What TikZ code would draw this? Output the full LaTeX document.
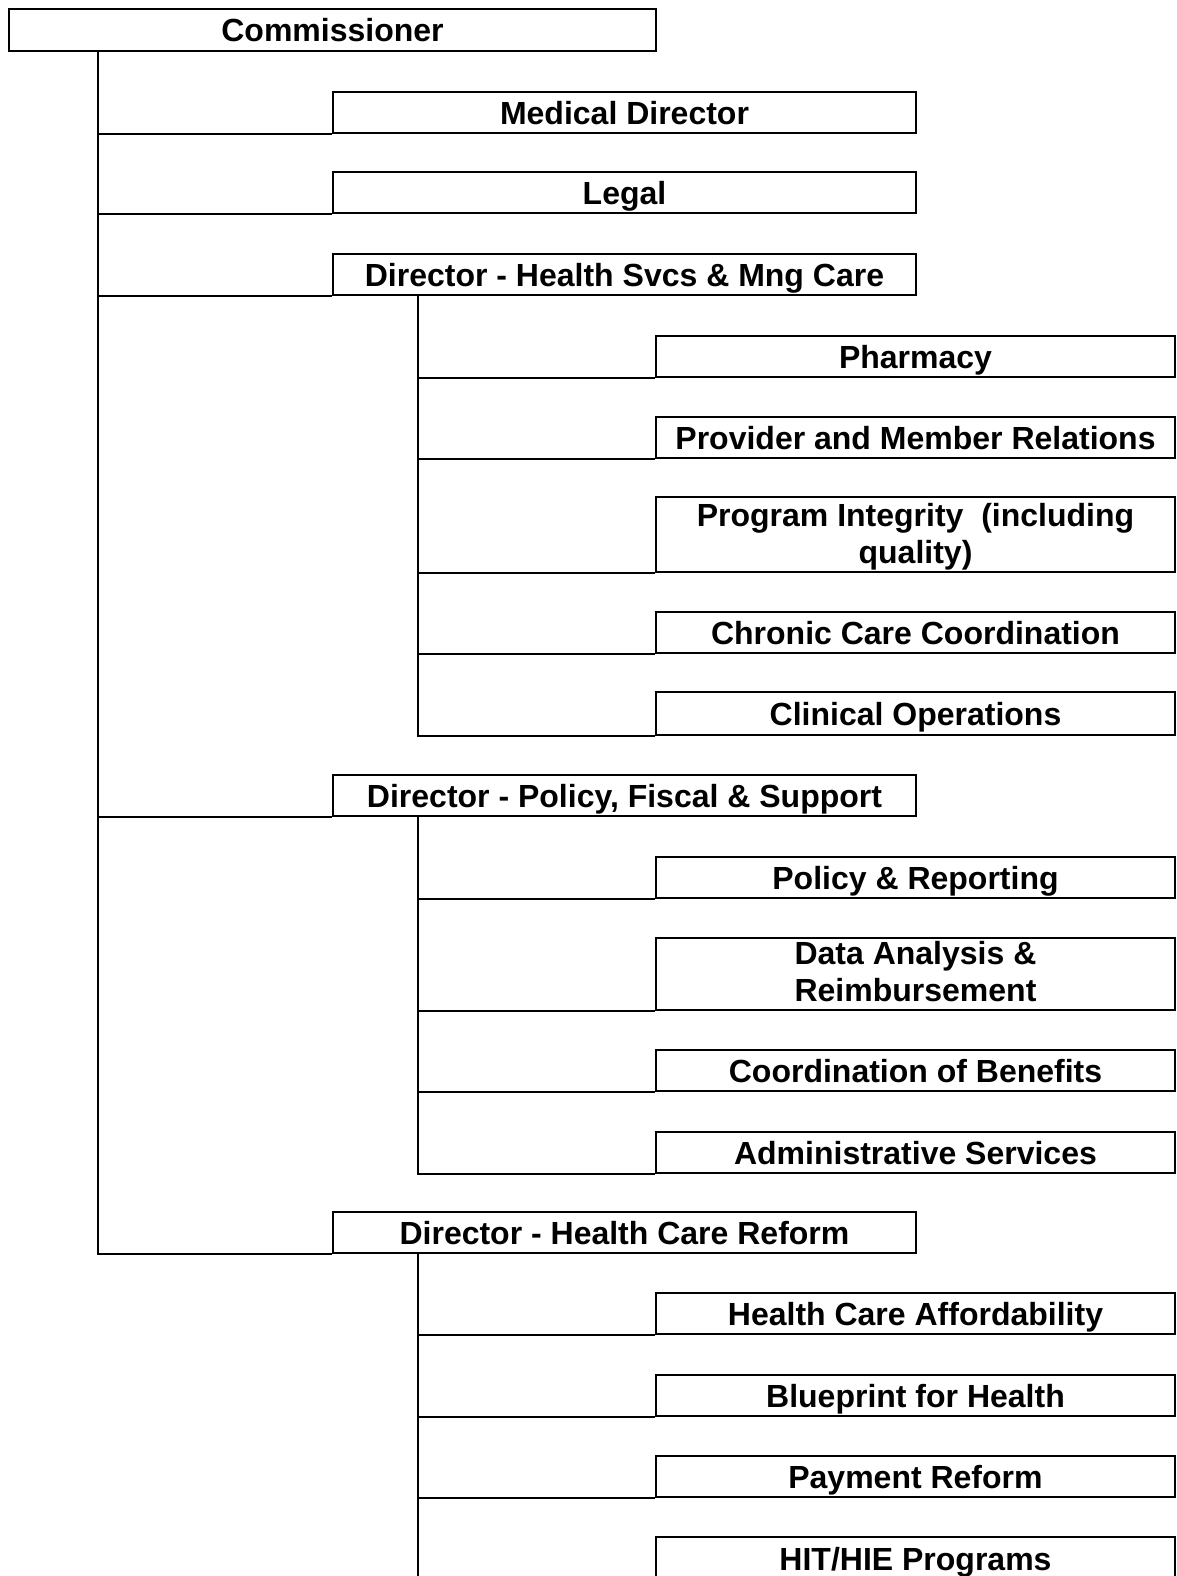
\documentclass[tikz,border=0pt]{standalone}
\usepackage{fontspec}
\setmainfont{Liberation Sans}

\tikzset{
  orgbox/.style={draw, fill=white, line width=2pt, anchor=north west, inner sep=0pt,
    align=center, font=\bfseries\fontsize{32}{37}\selectfont},
  oneline/.style={text height=32.5pt, text depth=8.5pt},
  topbox/.style={orgbox, oneline, minimum width=647pt, minimum height=42pt},
  midbox/.style={orgbox, oneline, minimum width=583pt, minimum height=41pt},
  subbox/.style={orgbox, minimum width=519pt, minimum height=41pt}
}
\tikzset{link/.style={line width=2pt}}

\begin{document}
\begin{tikzpicture}[x=1pt, y=-1pt]
  \useasboundingbox (0,0) rectangle (1176,1576);
  % top
  \node[topbox] (comm) at (8,8) {Commissioner};
  % second level
  \node[midbox] (med)   at (332,91)   {Medical Director};
  \node[midbox] (legal) at (332,171)  {Legal};
  \node[midbox] (hsmc)  at (332,253)  {Director - Health Svcs \& Mng Care};
  \node[midbox] (pfs)   at (332,774)  {Director - Policy, Fiscal \& Support};
  \node[midbox] (hcr)   at (332,1211) {Director - Health Care Reform};
  % health svcs
  \node[subbox, oneline] (pharm) at (655,335) {Pharmacy};
  \node[subbox, oneline] (pmr)   at (655,416) {Provider and Member Relations};
  \node[subbox, text height=66.5pt, text depth=8.5pt] (pi) at (655,496) {Program Integrity\ \ (including\\quality)};
  \node[subbox, oneline] (ccc)   at (655,611) {Chronic Care Coordination};
  \node[subbox, oneline, minimum height=43pt] (co) at (655,691) {Clinical Operations};
  % policy, fiscal
  \node[subbox, oneline] (polrep) at (655,856) {Policy \& Reporting};
  \node[subbox, text height=63.5pt, text depth=8.5pt] (dar) at (655,937) {Data Analysis \&\\Reimbursement};
  \node[subbox, oneline] (cob)   at (655,1049) {Coordination of Benefits};
  \node[subbox, oneline] (admin) at (655,1131) {Administrative Services};
  % reform
  \node[subbox, oneline] (hca)   at (655,1292) {Health Care Affordability};
  \node[subbox, oneline] (bfh)   at (655,1374) {Blueprint for Health};
  \node[subbox, oneline] (payr)  at (655,1455) {Payment Reform};
  \node[subbox, oneline, minimum height=43pt] (hit) at (655,1536) {HIT/HIE Programs};
  % connectors
  \foreach \b in {med,legal,hsmc,pfs,hcr}
    \draw[link] ([xshift=90pt]comm.south west) |- (\b.south west);
  \foreach \b in {pharm,pmr,pi,ccc,co}
    \draw[link] ([xshift=86pt]hsmc.south west) |- (\b.south west);
  \foreach \b in {polrep,dar,cob,admin}
    \draw[link] ([xshift=86pt]pfs.south west) |- (\b.south west);
  \foreach \b in {hca,bfh,payr,hit}
    \draw[link] ([xshift=86pt]hcr.south west) |- (\b.south west);
\end{tikzpicture}
\end{document}
